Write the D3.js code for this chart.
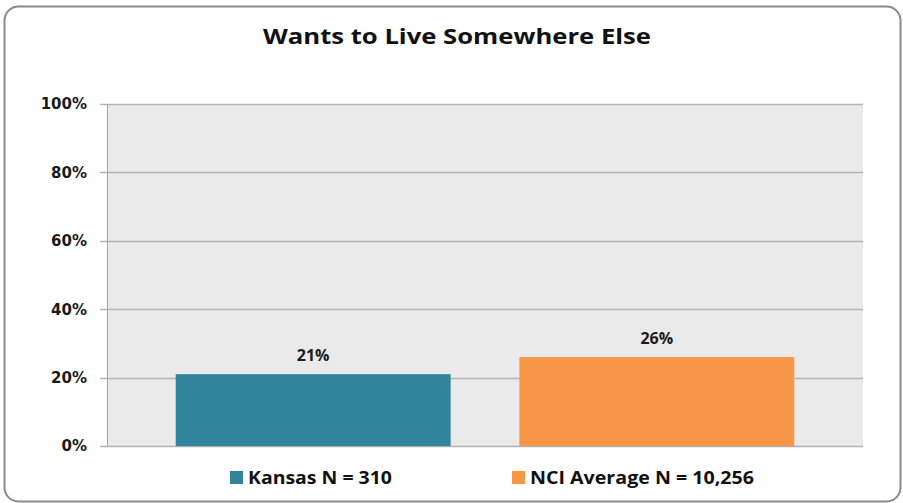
<!DOCTYPE html>
<html>
<head>
<meta charset="utf-8">
<script src="https://cdn.jsdelivr.net/npm/d3@7"></script>
<style>
  html, body { margin: 0; padding: 0; background: #fff; }
  svg { display: block; }
</style>
</head>
<body>
<svg id="chart" width="903" height="503"></svg>
<script>
const title = "Wants to Live Somewhere Else";
const seriesNames = ["Kansas N = 310", "NCI Average N = 10,256"];
const seriesValues = [21, 26];
const seriesColors = ["#31849B", "#F79646"];
const tickValues = [0, 20, 40, 60, 80, 100];

const W = 903, H = 503;
const margin = { left: 107, right: 40, top: 104, bottom: 57 };
const svg = d3.select("#chart");

// outer frame
svg.append("rect")
  .attr("x", 4.5).attr("y", 6.5)
  .attr("width", W - 7).attr("height", H - 8)
  .attr("rx", 14).attr("ry", 14)
  .attr("fill", "#fff")
  .attr("stroke", "#8a8a8a")
  .attr("stroke-width", 2);

const x0 = margin.left, x1 = W - margin.right;
const y0 = H - margin.bottom, y1 = margin.top;

const x = d3.scaleBand().domain(seriesNames).range([x0, x1])
  .paddingInner(0.2).paddingOuter(0.2);
const y = d3.scaleLinear().domain([0, 100]).range([y0, y1]);

// plot background
svg.append("rect")
  .attr("x", x0).attr("y", y1)
  .attr("width", x1 - x0).attr("height", y0 - y1)
  .attr("fill", "#EAEAEA");

// gridlines
svg.append("g").selectAll("line").data(tickValues).join("line")
  .attr("x1", x0 - 7).attr("x2", x1)
  .attr("y1", d => Math.round(y(d)) + 0.5).attr("y2", d => Math.round(y(d)) + 0.5)
  .attr("stroke", "#b3b3b3").attr("stroke-width", 1.5);

// y axis line
svg.append("line")
  .attr("x1", x0 + 0.5).attr("x2", x0 + 0.5)
  .attr("y1", y1).attr("y2", y0)
  .attr("stroke", "#a6a6a6").attr("stroke-width", 1);

// y axis labels
const yAxis = d3.axisLeft(y).tickValues(tickValues).tickFormat(d => d + "%").tickSize(0).tickPadding(20);
const ga = svg.append("g").attr("transform", `translate(${x0},0)`).call(yAxis);
ga.select(".domain").remove();
ga.selectAll("text")
  .attr("font-family", "DejaVu Sans, Verdana, sans-serif")
  .attr("font-weight", "bold")
  .attr("font-size", 15)
  .attr("fill", "#1a1a1a");

// bars
svg.append("g").selectAll("rect").data(seriesNames).join("rect")
  .attr("x", d => x(d))
  .attr("y", (d, i) => y(seriesValues[i]))
  .attr("width", x.bandwidth())
  .attr("height", (d, i) => y0 - y(seriesValues[i]))
  .attr("fill", (d, i) => seriesColors[i]);

// value labels
svg.append("g").selectAll("text").data(seriesNames).join("text")
  .attr("x", d => x(d) + x.bandwidth() / 2)
  .attr("y", (d, i) => y(seriesValues[i]) - 13)
  .attr("text-anchor", "middle")
  .attr("font-family", "Open Sans, sans-serif")
  .attr("font-weight", "bold")
  .attr("font-size", 16)
  .attr("fill", "#1a1a1a")
  .text((d, i) => seriesValues[i] + "%");

// title
svg.append("text")
  .attr("x", 457).attr("y", 44)
  .attr("text-anchor", "middle")
  .attr("font-family", "Open Sans, sans-serif")
  .attr("font-weight", "bold")
  .attr("font-size", 22)
  .attr("textLength", 388)
  .attr("lengthAdjust", "spacingAndGlyphs")
  .attr("fill", "#111")
  .text(title);

// legend
const legendX = [230, 512];
const legendW = [144, 224];
const lg = svg.append("g").selectAll("g").data(seriesNames).join("g");
lg.append("rect")
  .attr("x", (d, i) => legendX[i]).attr("y", 471)
  .attr("width", 13).attr("height", 13)
  .attr("fill", (d, i) => seriesColors[i]);
lg.append("text")
  .attr("x", (d, i) => legendX[i] + 18).attr("y", 484)
  .attr("font-family", "Open Sans, sans-serif")
  .attr("font-weight", "bold")
  .attr("font-size", 17)
  .attr("textLength", (d, i) => legendW[i])
  .attr("lengthAdjust", "spacingAndGlyphs")
  .attr("fill", "#111")
  .text(d => d);
</script>
</body>
</html>
